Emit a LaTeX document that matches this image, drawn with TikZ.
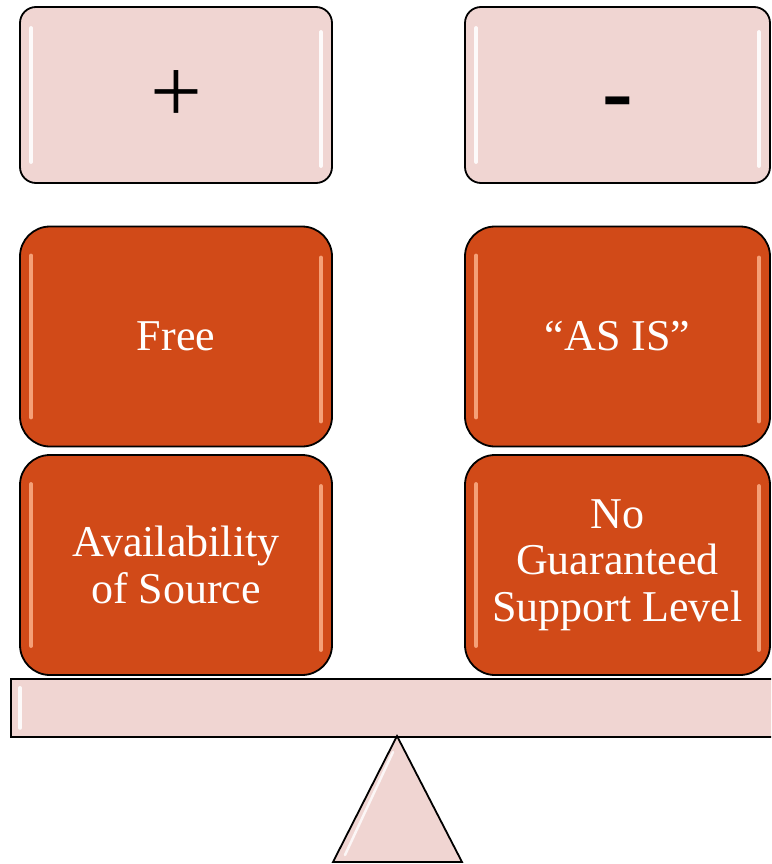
\documentclass[tikz,border=0pt]{standalone}
\usepackage{fontspec}
\setmainfont{Liberation Serif}
\definecolor{pinkfill}{RGB}{240,213,210}
\definecolor{orangefill}{RGB}{209,74,24}
\definecolor{orangehi}{RGB}{250,170,130}
\begin{document}
\begin{tikzpicture}[x=1pt,y=-1pt,
  pinkbox/.style={draw=black,line width=1.8pt,fill=pinkfill,rounded corners=16pt,
    minimum width=#1,minimum height=176pt,inner sep=0pt,
    font=\fontsize{92}{96}\selectfont,text=black},
  orangebox/.style={draw=black,line width=1.8pt,fill=orangefill,rounded corners=30pt,
    minimum width=#1,minimum height=220pt,inner sep=0pt,align=center,
    font=\fontsize{44}{46.5}\selectfont,text=white},
  hipink/.style={white,line width=4pt,line cap=round,opacity=0.9},
  hiorange/.style={orangehi,line width=4pt,line cap=round,opacity=0.9},
  beamstyle/.style={draw=black,line width=1.8pt,fill=pinkfill}]
\useasboundingbox (0,0) rectangle (771,864);
\begin{scope}
\clip (0,0) rectangle (771,864);
% top boxes
\node[pinkbox=312pt] (plus) at (176,95) {\smash{\raisebox{-28pt}{+}}};
\node[pinkbox=305pt] (minus) at (617.5,95) {\smash{\raisebox{-28pt}{\textbf{-}}}};
% orange boxes
\node[orangebox=312pt] (free) at (176,336.5) {Free};
\node[orangebox=305pt] (asis) at (617.5,336.5) {“AS IS”};
\node[orangebox=312pt] (avail) at (176,565) {Availability\\of Source};
\node[orangebox=305pt] (nosup) at (617.5,565) {No\\Guaranteed\\Support Level};
% highlights
\foreach \n in {plus,minus}{
  \draw[hipink] ([xshift=12pt,yshift=-22pt]\n.north west) -- ([xshift=12pt,yshift=22pt]\n.south west);
  \draw[hipink] ([xshift=-12pt,yshift=-26pt]\n.north east) -- ([xshift=-12pt,yshift=18pt]\n.south east);
}
\foreach \n in {free,asis,avail,nosup}{
  \draw[hiorange] ([xshift=12pt,yshift=-30pt]\n.north west) -- ([xshift=12pt,yshift=30pt]\n.south west);
  \draw[hiorange] ([xshift=-12pt,yshift=-32pt]\n.north east) -- ([xshift=-12pt,yshift=26pt]\n.south east);
}
% beam
\node[beamstyle,minimum width=775pt,minimum height=58pt,inner sep=0pt,anchor=north west] (beam) at (10,678) {};
\draw[hipink] ([xshift=10pt,yshift=-10pt]beam.north west) -- ([xshift=10pt,yshift=10pt]beam.south west);
% fulcrum
\coordinate (apex) at (397,736);
\coordinate (bl) at (333,862);
\coordinate (br) at (462,862);
\draw[beamstyle] (apex) -- (br) -- (bl) -- cycle;
\draw[white,line width=2.5pt,line cap=round,opacity=0.8] (393,752) -- (345,855);
\end{scope}
\end{tikzpicture}
\end{document}
